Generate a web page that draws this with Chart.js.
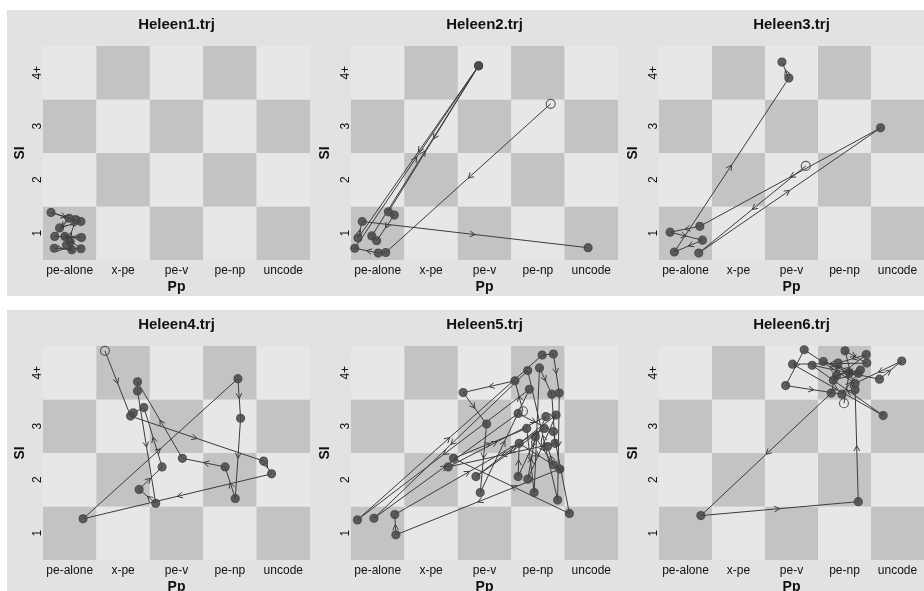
<!DOCTYPE html>
<html>
<head>
<meta charset="utf-8">
<script src="https://cdn.jsdelivr.net/npm/chart.js@4.4.1/dist/chart.umd.min.js"></script>
<style>
  html, body { margin: 0; padding: 0; background: #fff; overflow: hidden; }
  body { width: 924px; height: 591px; position: relative; }
  canvas { position: absolute; background: #e2e2e2; }
</style>
</head>
<body>
<canvas id="p0"></canvas>
<canvas id="p1"></canvas>
<canvas id="p2"></canvas>
<canvas id="p3"></canvas>
<canvas id="p4"></canvas>
<canvas id="p5"></canvas>
<script>
// axis categories
var ppLabels = ['pe-alone', 'x-pe', 'pe-v', 'pe-np', 'uncode'];
var siLabels = ['1', '2', '3', '4+'];
var titles = ['Heleen1.trj', 'Heleen2.trj', 'Heleen3.trj', 'Heleen4.trj', 'Heleen5.trj', 'Heleen6.trj'];

// trajectories (x = Pp position, y = SI position, jittered inside the cell); first point is the start
var heleen1X = [1.10, 0.65, 1.21, 0.81, 0.99, 0.72, 1.22, 0.91, 1.21, 0.71, 1.04, 1.01, 0.94, 1.12];
var heleen1Y = [1.24, 1.39, 1.22, 1.10, 1.28, 0.94, 0.92, 0.94, 0.71, 0.72, 0.69, 0.84, 0.78, 1.25];

var heleen2X = [4.24, 1.15, 1.01, 0.57, 2.89, 1.20, 1.31, 0.98, 0.89, 2.89, 0.63, 0.71, 4.94];
var heleen2Y = [3.42, 0.64, 0.63, 0.72, 4.13, 1.40, 1.34, 0.86, 0.95, 4.13, 0.91, 1.22, 0.73];

var heleen3X = [3.27, 1.25, 4.68, 1.27, 0.71, 1.32, 0.79, 2.95, 2.82];
var heleen3Y = [2.26, 0.63, 2.97, 1.13, 1.02, 0.87, 0.65, 3.90, 4.20];

var heleen4X = [1.66, 2.14, 4.63, 4.78, 1.25, 4.15, 4.20, 4.10, 3.91, 3.11, 2.27, 2.27, 2.61, 2.30, 2.73, 2.39, 2.19];
var heleen4Y = [4.41, 3.19, 2.35, 2.11, 1.27, 3.89, 3.15, 1.65, 2.24, 2.40, 3.83, 3.66, 1.56, 1.82, 2.24, 3.35, 3.25];

var heleen5X = [3.72, 3.57, 2.60, 3.04, 2.92, 3.84, 0.62, 4.08, 4.29, 4.40, 4.37, 3.81, 0.93, 3.63, 4.29, 4.59, 2.42, 3.79,
                3.93, 4.03, 4.26, 4.32, 2.32, 4.15, 3.63, 3.65, 4.41, 1.34, 1.32, 4.12, 2.84, 4.34, 3.81, 3.95, 4.29, 4.18];
var heleen5Y = [3.28, 3.85, 3.63, 3.04, 1.76, 3.69, 1.25, 4.33, 4.35, 3.62, 1.62, 4.04, 1.28, 3.24, 2.90, 1.37, 2.40, 2.96,
                1.76, 4.09, 3.60, 2.68, 2.24, 3.18, 2.06, 2.68, 2.20, 0.97, 1.35, 2.96, 2.06, 3.21, 2.01, 2.80, 2.28, 2.62];

var heleen6X = [3.99, 4.09, 3.60, 4.26, 3.79, 4.41, 3.88, 3.75, 1.29, 4.26, 4.20, 4.01, 4.42, 3.02, 4.73, 3.39, 4.66, 5.08,
                4.20, 3.24, 2.89, 3.95, 4.30, 3.85];
var heleen6Y = [3.43, 4.00, 4.21, 3.99, 3.86, 4.34, 4.18, 3.62, 1.33, 1.59, 3.68, 4.41, 4.18, 4.16, 3.20, 4.14, 3.88, 4.22,
                3.80, 4.43, 3.76, 3.60, 4.05, 3.95];

var seriesX = [heleen1X, heleen2X, heleen3X, heleen4X, heleen5X, heleen6X];
var seriesY = [heleen1Y, heleen2Y, heleen3Y, heleen4Y, heleen5Y, heleen6Y];

// panel placement on the page
var panelBoxes = [
    { left: 7,   top: 10,  width: 303, yWidth: 36, siPad: 5 },
    { left: 310, top: 10,  width: 308, yWidth: 41, siPad: 7 },
    { left: 618, top: 10,  width: 306, yWidth: 41, siPad: 7 },
    { left: 7,   top: 310, width: 303, yWidth: 36, siPad: 5 },
    { left: 310, top: 310, width: 308, yWidth: 41, siPad: 7 },
    { left: 618, top: 310, width: 306, yWidth: 41, siPad: 7 }
];
var PANEL_H = 286;

var DARK_CELL = '#c3c3c3';
var LIGHT_CELL = '#e7e7e7';
var LINE = '#3c3c3c';
var DOT = 'rgba(72,72,72,0.85)';
var FONT = "'Liberation Sans', Arial, sans-serif";

var checkerPlugin = {
    id: 'checker',
    beforeDatasetsDraw: function(chart) {
        var ctx = chart.ctx, xs = chart.scales.x, ys = chart.scales.y;
        ctx.save();
        for (var i = 1; i <= ppLabels.length; i++) {
            for (var j = 1; j <= siLabels.length; j++) {
                var x0 = xs.getPixelForValue(i - 0.5), x1 = xs.getPixelForValue(i + 0.5);
                var y0 = ys.getPixelForValue(j + 0.5), y1 = ys.getPixelForValue(j - 0.5);
                ctx.fillStyle = (i + j) % 2 === 0 ? DARK_CELL : LIGHT_CELL;
                ctx.fillRect(x0, y0, x1 - x0, y1 - y0);
            }
        }
        ctx.restore();
    }
};

// open chevrons half way along every step of the trajectory
var arrowPlugin = {
    id: 'arrows',
    afterDatasetsDraw: function(chart) {
        var pts = chart.getDatasetMeta(0).data;
        var ctx = chart.ctx;
        ctx.save();
        ctx.strokeStyle = LINE;
        ctx.lineWidth = 1;
        for (var i = 0; i < pts.length - 1; i++) {
            var a = pts[i], b = pts[i + 1];
            var dx = b.x - a.x, dy = b.y - a.y;
            if (Math.sqrt(dx * dx + dy * dy) < 14) continue;
            var mx = (a.x + b.x) / 2, my = (a.y + b.y) / 2;
            var ang = Math.atan2(dy, dx);
            ctx.beginPath();
            ctx.moveTo(mx - 6 * Math.cos(ang - 0.5), my - 6 * Math.sin(ang - 0.5));
            ctx.lineTo(mx, my);
            ctx.lineTo(mx - 6 * Math.cos(ang + 0.5), my - 6 * Math.sin(ang + 0.5));
            ctx.stroke();
        }
        ctx.restore();
    }
};

function makePanel(k) {
    var box = panelBoxes[k];
    var canvas = document.getElementById('p' + k);
    canvas.width = box.width;
    canvas.height = PANEL_H;
    canvas.style.left = box.left + 'px';
    canvas.style.top = box.top + 'px';

    var pts = [];
    for (var i = 0; i < seriesX[k].length; i++) {
        pts.push({ x: seriesX[k][i], y: seriesY[k][i] });
    }
    var fills = pts.map(function(p, i) { return i === 0 ? 'rgba(0,0,0,0)' : DOT; });
    var radii = pts.map(function(p, i) { return i === 0 ? 4.5 : 4; });

    new Chart(canvas, {
        type: 'scatter',
        data: {
            datasets: [{
                data: pts,
                showLine: true,
                clip: false,
                borderColor: LINE,
                borderWidth: 1,
                tension: 0,
                pointRadius: radii,
                pointBackgroundColor: fills,
                pointBorderColor: DOT,
                pointBorderWidth: 1.2
            }]
        },
        options: {
            responsive: false,
            animation: false,
            layout: { padding: 0, autoPadding: false },
            plugins: {
                legend: { display: false },
                tooltip: { enabled: false },
                title: {
                    display: true,
                    text: titles[k],
                    fullSize: false,
                    color: '#111',
                    font: { family: FONT, size: 15, weight: 'bold' },
                    padding: { top: 6, bottom: 12 }
                }
            },
            scales: {
                x: {
                    type: 'linear',
                    min: 0.5,
                    max: 5.5,
                    grid: { display: false, drawTicks: false },
                    border: { display: false },
                    afterBuildTicks: function(s) {
                        s.ticks = ppLabels.map(function(l, i) { return { value: i + 1 }; });
                    },
                    afterFit: function(s) {
                        s.height = 36;
                        s.paddingLeft = 0;
                        s.paddingRight = 0;
                    },
                    ticks: {
                        autoSkip: false,
                        maxRotation: 0,
                        padding: 3,
                        color: '#111',
                        font: { family: FONT, size: 12 },
                        callback: function(v) { return ppLabels[v - 1]; }
                    },
                    title: {
                        display: true,
                        text: 'Pp',
                        color: '#111',
                        font: { family: FONT, size: 14, weight: 'bold' },
                        padding: { top: 0, bottom: 0 }
                    }
                },
                y: {
                    type: 'linear',
                    min: 0.5,
                    max: 4.5,
                    grid: { display: false, drawTicks: false },
                    border: { display: false },
                    afterBuildTicks: function(s) {
                        s.ticks = siLabels.map(function(l, i) { return { value: i + 1 }; });
                    },
                    afterFit: function(s) {
                        s.width = box.yWidth;
                        s.paddingTop = 0;
                        s.paddingBottom = 0;
                    },
                    ticks: {
                        autoSkip: false,
                        minRotation: 90,
                        maxRotation: 90,
                        crossAlign: 'center',
                        padding: -2,
                        color: '#111',
                        font: { family: FONT, size: 12 },
                        callback: function(v) { return siLabels[v - 1]; }
                    },
                    title: {
                        display: true,
                        text: 'SI',
                        color: '#111',
                        font: { family: FONT, size: 14, weight: 'bold' },
                        padding: { top: box.siPad, bottom: 0 }
                    }
                }
            }
        },
        plugins: [checkerPlugin, arrowPlugin]
    });
}

for (var k = 0; k < 6; k++) makePanel(k);
</script>
</body>
</html>
